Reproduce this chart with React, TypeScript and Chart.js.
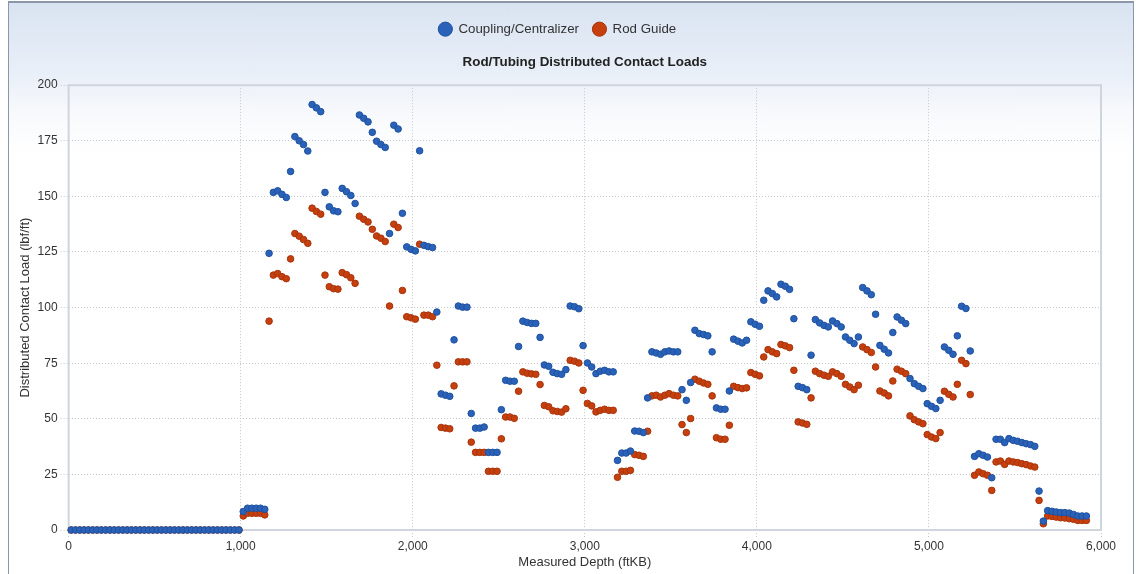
import { useEffect, useRef } from "react";
import { Chart, registerables } from "chart.js";

Chart.register(...registerables);

// Measured depth of each contact-load sample (ftKB)
const depthFt = [
  15, 40, 65, 90, 115, 140, 165, 190, 215, 240,
  265, 290, 315, 340, 365, 390, 415, 440, 465, 490,
  515, 540, 565, 590, 615, 640, 665, 690, 715, 740,
  765, 790, 815, 840, 865, 890, 915, 940, 965, 990,
  1015, 1040, 1065, 1090, 1115, 1140, 1165, 1190, 1215, 1240,
  1265, 1290, 1315, 1340, 1365, 1390, 1415, 1440, 1465, 1490,
  1515, 1540, 1565, 1590, 1615, 1640, 1665, 1690, 1715, 1740,
  1765, 1790, 1815, 1840, 1865, 1890, 1915, 1940, 1965, 1990,
  2015, 2040, 2065, 2090, 2115, 2140, 2165, 2190, 2215, 2240,
  2265, 2290, 2315, 2340, 2365, 2390, 2415, 2440, 2465, 2490,
  2515, 2540, 2565, 2590, 2615, 2640, 2665, 2690, 2715, 2740,
  2765, 2790, 2815, 2840, 2865, 2890, 2915, 2940, 2965, 2990,
  3015, 3040, 3065, 3090, 3115, 3140, 3165, 3190, 3215, 3240,
  3265, 3290, 3315, 3340, 3365, 3390, 3415, 3440, 3465, 3490,
  3515, 3540, 3565, 3590, 3615, 3640, 3665, 3690, 3715, 3740,
  3765, 3790, 3815, 3840, 3865, 3890, 3915, 3940, 3965, 3990,
  4015, 4040, 4065, 4090, 4115, 4140, 4165, 4190, 4215, 4240,
  4265, 4290, 4315, 4340, 4365, 4390, 4415, 4440, 4465, 4490,
  4515, 4540, 4565, 4590, 4615, 4640, 4665, 4690, 4715, 4740,
  4765, 4790, 4815, 4840, 4865, 4890, 4915, 4940, 4965, 4990,
  5015, 5040, 5065, 5090, 5115, 5140, 5165, 5190, 5215, 5240,
  5265, 5290, 5315, 5340, 5365, 5390, 5415, 5440, 5465, 5490,
  5515, 5540, 5565, 5590, 5615, 5640, 5665, 5690, 5715, 5740,
  5765, 5790, 5815, 5840, 5865, 5890, 5915,
];

// Coupling/Centralizer distributed contact load (lbf/ft)
const couplingLoad = [
  0, 0, 0, 0, 0, 0, 0, 0, 0, 0,
  0, 0, 0, 0, 0, 0, 0, 0, 0, 0,
  0, 0, 0, 0, 0, 0, 0, 0, 0, 0,
  0, 0, 0, 0, 0, 0, 0, 0, 0, 0,
  8.3, 9.8, 9.8, 9.8, 9.8, 9.3, 124.4, 151.8, 152.5, 150.9,
  149.5, 161.2, 176.9, 175, 173.3, 170.4, 191.3, 189.8, 188.1, 151.8,
  145.3, 143.5, 143.1, 153.6, 152.1, 150.4, 146.8, 186.6, 185.1, 183.5,
  178.8, 174.8, 173.3, 172, 133.3, 182, 180.3, 142.4, 127.3, 126.2,
  125.5, 170.5, 128, 127.4, 127, 98, 61.2, 60.6, 60.1, 85.5,
  100.7, 100.2, 100.2, 52.4, 45.8, 45.8, 46.3, 34.9, 34.9, 34.9,
  54.1, 67.3, 66.9, 66.9, 82.5, 93.9, 93.3, 92.9, 92.9, 86.6,
  74.2, 73.6, 70.9, 70.3, 70, 72.1, 100.7, 100.4, 99.5, 82.9,
  75.1, 73.3, 70.3, 71.4, 71.8, 71.1, 71.1, 31.3, 34.6, 34.6,
  35.5, 44.5, 44.4, 43.8, 59.4, 80.1, 79.6, 79, 80.1, 80.5,
  80.1, 80.1, 63.1, 58.3, 66.3, 89.8, 88.3, 87.9, 87.3, 80.1,
  54.9, 54.3, 54.3, 62.5, 85.8, 84.9, 84.1, 85.3, 93.6, 92.5,
  91.6, 103.3, 107.5, 106.3, 104.8, 110.5, 109.6, 108.2, 95, 64.6,
  64, 63.1, 78.6, 94.6, 93.1, 92, 91.3, 94, 92.8, 91.3,
  86.8, 85.3, 83.8, 86.8, 109, 107.5, 105.8, 97, 83, 81.3,
  79.6, 88.8, 95.8, 94.3, 92.8, 68.1, 65.8, 64.6, 63.6, 56.8,
  55.6, 54.6, 58.3, 82.3, 80.8, 79, 87.3, 100.6, 99.6, 80.5,
  33.1, 34.3, 33.6, 32.8, 23.5, 40.8, 40.8, 39.3, 41.1, 40.3,
  39.9, 39.3, 38.8, 38.4, 37.6, 17.5, 4, 8.7, 8.4, 8.1,
  7.8, 7.8, 7.6, 7, 6.3, 6.3, 6.3,
];

// Rod Guide distributed contact load (lbf/ft)
const rodGuideLoad = [
  0, 0, 0, 0, 0, 0, 0, 0, 0, 0,
  0, 0, 0, 0, 0, 0, 0, 0, 0, 0,
  0, 0, 0, 0, 0, 0, 0, 0, 0, 0,
  0, 0, 0, 0, 0, 0, 0, 0, 0, 0,
  6.3, 7.5, 7.5, 7.5, 7.5, 6.8, 93.9, 114.6, 115.3, 113.9,
  113, 121.9, 133.3, 132.1, 130.6, 128.9, 144.7, 143.2, 142, 114.6,
  109.4, 108.5, 108.3, 115.7, 114.8, 113.4, 110.9, 141.1, 139.7, 138.5,
  135.2, 132.2, 131.2, 129.7, 100.7, 137.5, 136, 107.7, 95.9, 95.4,
  94.8, 128.5, 96.6, 96.6, 95.9, 74.1, 46.1, 45.8, 45.5, 64.8,
  75.6, 75.6, 75.6, 39.5, 34.9, 34.9, 34.9, 26.4, 26.4, 26.4,
  41, 50.8, 50.8, 50.2, 62.4, 71.1, 70.5, 70.2, 70, 65.4,
  56, 55.4, 53.6, 53.3, 53, 54.5, 76.3, 75.9, 75.1, 62.8,
  56.9, 55.8, 53.1, 53.8, 54.3, 53.8, 53.8, 23.7, 26.4, 26.4,
  26.8, 33.9, 33.6, 33.1, 44.4, 60.3, 60.6, 59.8, 60.6, 61.3,
  60.6, 60.3, 47.4, 43.8, 50.1, 67.8, 66.9, 66.1, 65.5, 60.3,
  41.5, 40.8, 40.8, 47.1, 64.6, 64, 63.6, 63.9, 70.8, 70,
  69.3, 77.8, 81.1, 80.1, 79.3, 83.4, 82.8, 82, 71.8, 48.6,
  48.1, 47.5, 59.4, 71.4, 70.3, 69.6, 69.1, 71.1, 70.3, 69.1,
  65.5, 64.3, 63.1, 65.1, 82.3, 81.1, 79.8, 73.3, 62.5, 61.6,
  60.3, 67, 72.3, 71.4, 70.3, 51.3, 49.6, 48.6, 47.8, 42.9,
  41.8, 41.1, 43.8, 62.4, 61, 59.8, 65.5, 76.3, 74.8, 60.9,
  24.6, 26.1, 25.3, 24.6, 17.8, 30.6, 31, 29.5, 31, 30.6,
  30.3, 29.8, 29.4, 28.8, 28.3, 13.3, 2.8, 6.3, 6.1, 5.8,
  5.5, 5.4, 5.1, 4.8, 4.3, 4.3, 4.3,
];

const seriesNames = ["Coupling/Centralizer", "Rod Guide"];
const chartTitle = "Rod/Tubing Distributed Contact Loads";
const xAxisTitle = "Measured Depth (ftKB)";
const yAxisTitle = "Distributed Contact Load (lbf/ft)";

const FONT = '"Liberation Sans", Arial, sans-serif';

const areaBorder = {
  id: "areaBorder",
  beforeDatasetsDraw(chart: any) {
    const { ctx, chartArea } = chart;
    const { left, top, right, bottom } = chartArea;
    ctx.save();
    ctx.strokeStyle = "#cfd5dc";
    ctx.lineWidth = 2;
    ctx.strokeRect(left, top, right - left, bottom - top);
    ctx.restore();
  },
};

export default function App() {
  const canvasRef = useRef<HTMLCanvasElement | null>(null);

  useEffect(() => {
    const canvas = canvasRef.current;
    if (!canvas) return;
    const toPoints = (vals: number[]) =>
      depthFt.map((d, i) => ({ x: d, y: vals[i] }));

    const gridCommon = {
      color: "#c3c8cf",
      tickColor: "#c3c8cf",
      tickLength: 8,
      tickBorderDash: [1, 2],
    };

    const chart = new Chart(canvas, {
      type: "scatter",
      data: {
        datasets: [
          {
            label: seriesNames[0],
            data: toPoints(couplingLoad),
            backgroundColor: "#2a62b9",
            borderColor: "#1f519e",
            borderWidth: 1,
            pointRadius: 3.3,
            pointHoverRadius: 3.3,
            clip: false,
          },
          {
            label: seriesNames[1],
            data: toPoints(rodGuideLoad),
            backgroundColor: "#c63f0e",
            borderColor: "#a8340b",
            borderWidth: 1,
            pointRadius: 3.3,
            pointHoverRadius: 3.3,
            clip: false,
          },
        ],
      },
      options: {
        animation: false,
        responsive: false,
        devicePixelRatio: 1,
        layout: { padding: { top: 5.5, left: 5, right: 32, bottom: 0 } },
        plugins: {
          tooltip: { enabled: false },
          legend: {
            display: true,
            position: "top",
            weight: 3000,
            labels: {
              usePointStyle: true,
              pointStyle: "circle",
              boxWidth: 13,
              boxHeight: 10,
              padding: 14,
              color: "#333333",
              font: { family: FONT, size: 13.3 },
            },
          } as any,
          title: {
            display: true,
            fullSize: false,
            text: chartTitle,
            color: "#222222",
            font: { family: FONT, size: 13.4, weight: "bold" },
            padding: { top: 8.5, bottom: 14.8 },
          },
        },
        scales: {
          x: {
            type: "linear",
            min: 0,
            max: 6000,
            ticks: {
              stepSize: 1000,
              padding: 1,
              color: "#333333",
              font: { family: FONT, size: 12 },
              callback: (v: any) => Number(v).toLocaleString("en-US"),
            },
            grid: gridCommon,
            border: { display: false, dash: [1, 2] },
            title: {
              display: true,
              text: xAxisTitle,
              color: "#333333",
              font: { family: FONT, size: 13 },
              padding: { top: 0, bottom: 4 },
            },
          },
          y: {
            type: "linear",
            min: 0,
            max: 200,
            ticks: {
              stepSize: 25,
              padding: 3,
              color: "#333333",
              font: { family: FONT, size: 12 },
              callback: (v: any) => Number(v).toLocaleString("en-US"),
            },
            grid: gridCommon,
            border: { display: false, dash: [1, 2] },
            title: {
              display: true,
              text: yAxisTitle,
              color: "#333333",
              font: { family: FONT, size: 13 },
              padding: { top: 4, bottom: 1 },
            },
          },
        },
      },
      plugins: [areaBorder],
    } as any);

    return () => chart.destroy();
  }, []);

  return (
    <div
      style={{
        position: "absolute",
        left: 8,
        top: 1,
        width: 1124,
        height: 590,
        borderLeft: "1px solid #8a97a8",
        borderTop: "2px solid #8a97a8",
        borderRight: "1px solid #8a97a8",
        background:
          "linear-gradient(to bottom, #d9e3f1 0px, #e9eff8 70px, #f7f9fc 110px, #ffffff 150px)",
      }}
    >
      <canvas
        ref={canvasRef}
        width={1124}
        height={571}
        style={{ display: "block", width: 1124, height: 571 }}
      />
    </div>
  );
}
